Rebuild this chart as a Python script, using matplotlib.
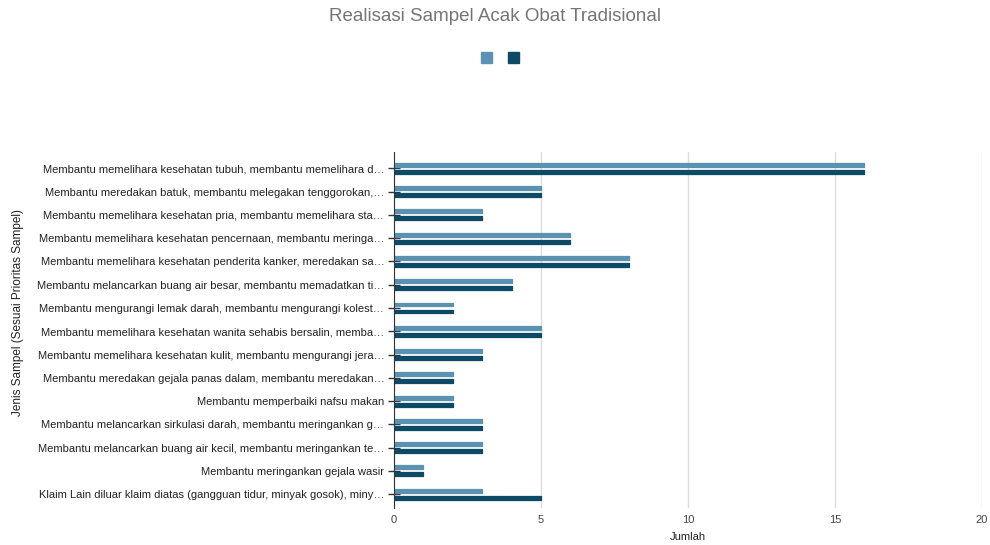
"""
Realisasi Sampel Acak Obat Tradisional - horizontal grouped bars
"""
import numpy as np
import matplotlib
matplotlib.use("Agg")
import matplotlib.pyplot as plt
from matplotlib.patches import Patch

plt.rcParams['font.family'] = ['Liberation Sans', 'DejaVu Sans']

categories = [
    "Membantu memelihara kesehatan tubuh, membantu memelihara d…",
    "Membantu meredakan batuk, membantu melegakan tenggorokan,…",
    "Membantu memelihara kesehatan pria, membantu memelihara sta…",
    "Membantu memelihara kesehatan pencernaan, membantu meringa…",
    "Membantu memelihara kesehatan penderita kanker, meredakan sa…",
    "Membantu melancarkan buang air besar, membantu memadatkan ti…",
    "Membantu mengurangi lemak darah, membantu mengurangi kolest…",
    "Membantu memelihara kesehatan wanita sehabis bersalin, memba…",
    "Membantu memelihara kesehatan kulit, membantu mengurangi jera…",
    "Membantu meredakan gejala panas dalam, membantu meredakan…",
    "Membantu memperbaiki nafsu makan",
    "Membantu melancarkan sirkulasi darah, membantu meringankan g…",
    "Membantu melancarkan buang air kecil, membantu meringankan te…",
    "Membantu meringankan gejala wasir",
    "Klaim Lain diluar klaim diatas (gangguan tidur, minyak gosok), miny…",
]
series_a = [16, 5, 3, 6, 8, 4, 2, 5, 3, 2, 2, 3, 3, 1, 3]
series_b = [16, 5, 3, 6, 8, 4, 2, 5, 3, 2, 2, 3, 3, 1, 5]
x_ticks = [0, 5, 10, 15, 20]

color_a = '#5b91b1'
color_b = '#0c4a66'

fig = plt.figure(figsize=(9.9, 5.45), dpi=100)
ax = fig.add_axes([0.398, 0.068, 0.594, 0.653])

y = np.arange(len(categories))
h = 0.17
off = 0.15
ax.barh(y - off, series_a, height=h, color=color_a, edgecolor=color_a,
        linewidth=0.9, joinstyle='round', zorder=3)
ax.barh(y + off, series_b, height=h, color=color_b, edgecolor=color_b,
        linewidth=0.9, joinstyle='round', zorder=3)

ax.set_xlim(0, 20)
ax.set_ylim(14.59, -0.70)
ax.set_xticks(x_ticks)
ax.set_yticks(y)
ax.set_yticklabels(categories, fontsize=8, color='#222222')
ax.tick_params(axis='x', length=0, labelsize=8, labelcolor='#444444', pad=5)
ax.tick_params(axis='y', length=8, width=1, color='#333333', direction='inout', pad=3)

ax.grid(axis='x', color='#dddddd', linewidth=1, zorder=0)
for s in ['top', 'right', 'bottom']:
    ax.spines[s].set_visible(False)
ax.spines['left'].set_color('#333333')
ax.spines['left'].set_zorder(4)

ax.set_xlabel('Jumlah', fontsize=8, color='#222222', labelpad=5)
ax.set_ylabel('Jenis Sampel (Sesuai Prioritas Sampel)', fontsize=8.5, color='#222222')
ax.yaxis.set_label_coords(-0.63, 0.55)

fig.suptitle('Realisasi Sampel Acak Obat Tradisional', y=0.985, fontsize=13.5,
             color='#757575')

handles = [Patch(facecolor=color_a, edgecolor=color_a),
           Patch(facecolor=color_b, edgecolor=color_b)]
fig.legend(handles=handles, labels=['', ''], ncol=2, frameon=False,
           loc='center', bbox_to_anchor=(0.505, 0.893),
           handlelength=0.8, handleheight=0.8, handletextpad=0,
           columnspacing=1.1, fontsize=10)

fig.savefig('out.png', dpi=100)
